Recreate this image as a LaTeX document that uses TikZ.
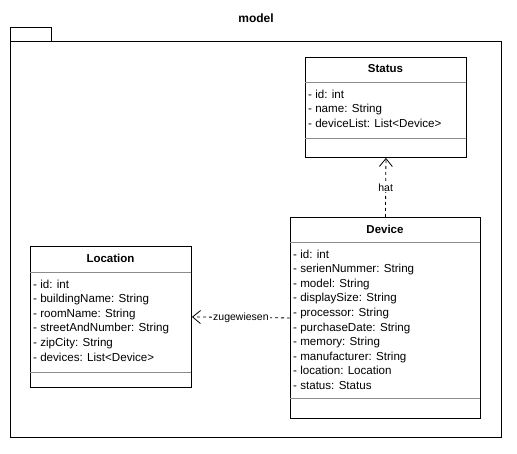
\documentclass[tikz,border=0pt]{standalone}
\usepackage{fontspec}
\setmainfont{Liberation Sans}
\usetikzlibrary{arrows.meta}
\begin{document}
\begin{tikzpicture}[x=1pt,y=-1pt,
  box/.style={draw=black, line width=0.9pt, fill=white, anchor=north west, inner sep=0pt},
  divider/.style={draw=black!45, line width=0.7pt},
  ttl/.style={font=\fontsize{11.5}{13}\selectfont\bfseries, anchor=center, inner sep=0pt},
  attr/.style={font=\fontsize{11.6}{14.6}\selectfont, anchor=north west, align=left, inner sep=0pt},
  dep/.style={draw=black, line width=0.8pt, dash pattern=on 3pt off 3pt, -{Straight Barb[length=8pt,width=13pt,line width=0.8pt]}},
  lbl/.style={fill=white, inner sep=1pt, font=\fontsize{10.5}{12}\selectfont}]
\useasboundingbox (0,0) rectangle (517,454);
% package
\node[font=\fontsize{12}{14}\selectfont\bfseries] (pkgtitle) at (256,18) {model};
\draw[line width=0.9pt] (10,27) rectangle (51,41);
\draw[line width=0.9pt] (10,41) rectangle (501,437);
% Status
\node[box, minimum width=161pt, minimum height=100pt] (status) at (305,57) {};
\node[ttl] (statusT) at (385.5,69) {Status};
\draw[divider] (305,82) -- (466,82);
\draw[divider] (305,138) -- (466,138);
\node[attr] (statusA) at (308,89.5) {- id: int\\- name: String\\- deviceList: List<Device>};
% Location
\node[box, minimum width=161pt, minimum height=141pt] (location) at (30,246) {};
\node[ttl] (locationT) at (110.5,258) {Location};
\draw[divider] (30,272) -- (191,272);
\draw[divider] (30,372) -- (191,372);
\node[attr] (locationA) at (33,279.5) {- id: int\\- buildingName: String\\- roomName: String\\- streetAndNumber: String\\- zipCity: String\\- devices: List<Device>};
% Device
\node[box, minimum width=190pt, minimum height=201pt] (device) at (290,217) {};
\node[ttl] (deviceT) at (385,229) {Device};
\draw[divider] (290,242) -- (480,242);
\draw[divider] (290,398) -- (480,398);
\node[attr] (deviceA) at (293,249.5) {- id: int\\- serienNummer: String\\- model: String\\- displaySize: String\\- processor: String\\- purchaseDate: String\\- memory: String\\- manufacturer: String\\- location: Location\\- status: Status};
% connectors
\draw[dep] (device.north) -- node[lbl] {hat} (status.south);
\draw[dep] (device.west) -- node[lbl] {zugewiesen} (location.east);
\end{tikzpicture}
\end{document}
